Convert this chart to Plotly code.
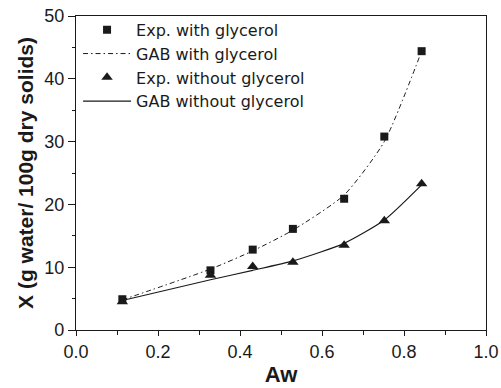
import plotly.graph_objects as go

aw = [0.113, 0.328, 0.431, 0.529, 0.654, 0.752, 0.843]
exp_with = [4.9, 9.5, 12.8, 16.1, 20.9, 30.8, 44.4]
exp_without = [4.5, 8.7, 10.1, 10.8, 13.5, 17.4, 23.3]
gab_with = [4.8, 9.7, 12.6, 15.9, 21.5, 30.0, 44.4]
gab_without = [4.7, 8.0, 9.5, 11.0, 13.8, 17.5, 23.1]

x_ticks = [0.0, 0.2, 0.4, 0.6, 0.8, 1.0]
x_tick_labels = ["0.0", "0.2", "0.4", "0.6", "0.8", "1.0"]
y_ticks = [0, 10, 20, 30, 40, 50]

FONT = "Liberation Sans, Arial, sans-serif"
LEGEND_FONT = "DejaVu Sans, Liberation Sans, sans-serif"
INK = "#1a1a1a"

fig = go.Figure()
fig.add_trace(go.Scatter(x=aw, y=exp_with, mode="markers", name="Exp. with glycerol",
                         marker=dict(symbol="square", size=8, color=INK)))
fig.add_trace(go.Scatter(x=aw, y=gab_with, mode="lines", name="GAB with glycerol",
                         line=dict(color=INK, width=1, dash="5px,3px,1.5px,3px", shape="spline", smoothing=0.6)))
fig.add_trace(go.Scatter(x=aw, y=exp_without, mode="markers", name="Exp. without glycerol",
                         marker=dict(symbol="triangle-up", size=10, color=INK)))
fig.add_trace(go.Scatter(x=aw, y=gab_without, mode="lines", name="GAB without glycerol",
                         line=dict(color=INK, width=1.2, shape="spline", smoothing=0.6)))

fig.update_layout(
    width=501, height=388,
    margin=dict(l=76, r=15, t=16, b=58, autoexpand=False),
    paper_bgcolor="white", plot_bgcolor="white",
    font=dict(family=FONT, size=18, color=INK),
    showlegend=True,
    legend=dict(x=0.005, y=1.01, xanchor="left", yanchor="top",
                bgcolor="rgba(0,0,0,0)", font=dict(size=16, family=LEGEND_FONT, color=INK),
                tracegroupgap=0, itemwidth=48),
    xaxis=dict(range=[0, 1.0], tickvals=x_ticks, ticktext=x_tick_labels, automargin=False,
               showgrid=False, zeroline=False, showline=True, linecolor=INK, linewidth=1.2,
               mirror=True, ticks="outside", ticklen=5, tickcolor=INK, tickwidth=1,
               minor=dict(dtick=0.1, ticks="outside", ticklen=4, tickcolor=INK, tickwidth=1),
               title=dict(text="<b>Aw</b>", font=dict(size=22, family=FONT), standoff=5),
               tickfont=dict(size=18, family=FONT)),
    yaxis=dict(range=[0, 50], tickvals=y_ticks, automargin=False,
               showgrid=False, zeroline=False, showline=True, linecolor=INK, linewidth=1.2,
               mirror=True, ticks="outside", ticklen=7, tickcolor=INK, tickwidth=1,
               minor=dict(dtick=5, ticks="outside", ticklen=3, tickcolor=INK, tickwidth=1),
               title=dict(text="<b>X (g water/ 100g dry solids)</b>", font=dict(size=21, family=FONT), standoff=4),
               tickfont=dict(size=18, family=FONT)),
)

fig.write_html("out.html")
